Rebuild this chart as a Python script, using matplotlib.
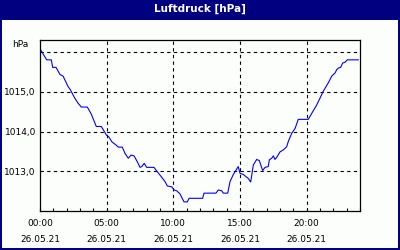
import matplotlib
matplotlib.use("Agg")
import matplotlib.pyplot as plt
from matplotlib.patches import Rectangle

title = "Luftdruck [hPa]"
unit = "hPa"
date_label = "26.05.21"
x_ticks = [0, 5, 10, 15, 20]
x_tick_labels = ["00:00", "05:00", "10:00", "15:00", "20:00"]
y_ticks = [1013, 1014, 1015]
y_tick_labels = ["1013,0", "1014,0", "1015,0"]
y_grid = [1013, 1014, 1015, 1016]

hours = [0.05, 0.5, 0.85, 0.95, 1.2, 1.5, 1.73, 2.1, 2.27, 2.6, 2.85, 3.1, 3.55, 3.85,
         4.22, 4.6, 4.97, 5.15, 5.4, 5.72, 5.87, 6.17, 6.38, 6.62, 6.83, 7.05, 7.3,
         7.5, 7.63, 7.82, 8.0, 8.55, 8.75, 9.13, 9.38, 9.55, 9.88, 10.05, 10.25, 10.5,
         10.8, 11.05, 11.18, 12.2, 12.3, 13.2, 13.37, 13.63, 13.75, 14.08, 14.25, 14.5,
         14.87, 15.0, 15.25, 15.62, 15.8, 16.0, 16.25, 16.45, 16.7, 16.88, 17.12, 17.2,
         17.38, 17.5, 17.62, 17.75, 18.0, 18.25, 18.5, 18.62, 18.88, 19.13, 19.37,
         20.12, 20.38, 20.75, 21.25, 21.62, 21.88, 22.13, 22.25, 22.37, 22.55, 22.7,
         22.88, 23.05, 23.87]
pressure = [1016.06, 1015.81, 1015.81, 1015.62, 1015.62, 1015.44, 1015.40, 1015.14,
            1015.06, 1014.85, 1014.72, 1014.62, 1014.62, 1014.44, 1014.13, 1014.13,
            1013.92, 1013.87, 1013.74, 1013.66, 1013.61, 1013.61, 1013.45, 1013.33,
            1013.41, 1013.39, 1013.24, 1013.10, 1013.12, 1013.20, 1013.10, 1013.10,
            1013.01, 1012.85, 1012.74, 1012.63, 1012.61, 1012.53, 1012.51, 1012.43,
            1012.23, 1012.23, 1012.32, 1012.32, 1012.45, 1012.45, 1012.53, 1012.51,
            1012.45, 1012.45, 1012.74, 1012.92, 1013.12, 1012.95, 1012.92, 1012.82,
            1012.73, 1013.16, 1013.30, 1013.27, 1013.02, 1013.10, 1013.12, 1013.29,
            1013.33, 1013.39, 1013.30, 1013.35, 1013.49, 1013.54, 1013.62, 1013.75,
            1013.96, 1014.08, 1014.31, 1014.31, 1014.46, 1014.67, 1015.02, 1015.23,
            1015.40, 1015.48, 1015.56, 1015.60, 1015.62, 1015.73, 1015.75, 1015.81,
            1015.81]

NAVY = "#000080"
W, H = 400, 250
fig = plt.figure(figsize=(4, 2.5), dpi=100)
fig.patch.set_facecolor("#fcfefc")

# title bar and border
fig.patches.append(Rectangle((0, 1 - 20 / H), 1, 20 / H, transform=fig.transFigure,
                             facecolor=NAVY, edgecolor="none", zorder=0))
fig.patches.append(Rectangle((0, 0), 1.5 / W, 1, transform=fig.transFigure,
                             facecolor=NAVY, edgecolor="none", zorder=0))
fig.patches.append(Rectangle((1 - 2 / W, 0), 2 / W, 1, transform=fig.transFigure,
                             facecolor=NAVY, edgecolor="none", zorder=0))
fig.patches.append(Rectangle((0, 0), 1, 2.5 / H, transform=fig.transFigure,
                             facecolor=NAVY, edgecolor="none", zorder=0))
fig.text(0.5, 1 - 9 / H, title, color="white", fontsize=7.5, fontweight="bold",
         ha="center", va="center", family="DejaVu Sans")

ax = fig.add_axes([40 / W, (H - 211) / H, 320 / W, 171 / H])
ax.set_facecolor("#fcfefc")
ax.plot(hours, pressure, color="#0000ff", linewidth=0.8)
ax.set_xlim(0, 24)
ax.set_ylim(1012.0, 1016.31)

for xv in x_ticks[1:]:
    ax.axvline(xv, color="black", linewidth=0.8, linestyle=(0, (3, 3)), zorder=1)
for yv in y_grid:
    ax.axhline(yv, color="black", linewidth=0.8, linestyle=(0, (3, 3)), zorder=1)

ax.set_xticks(x_ticks)
ax.set_xticks(range(0, 25), minor=True)
ax.set_xticklabels([f"{t}\n{date_label}" for t in x_tick_labels], fontsize=6.5,
                   linespacing=1.9)
ax.tick_params(axis="x", which="both", direction="in", length=2.5, width=0.8,
               pad=6, colors="black")
ax.set_yticks(y_ticks)
ax.set_yticklabels(y_tick_labels, fontsize=6.5)
ax.tick_params(axis="y", length=0, pad=3)
for s in ax.spines.values():
    s.set_linewidth(0.9)
    s.set_color("black")

fig.text(28 / W, 1 - 45 / H, unit, fontsize=6.5, ha="right", va="center")

fig.savefig("out.png", dpi=100, facecolor=fig.get_facecolor())
